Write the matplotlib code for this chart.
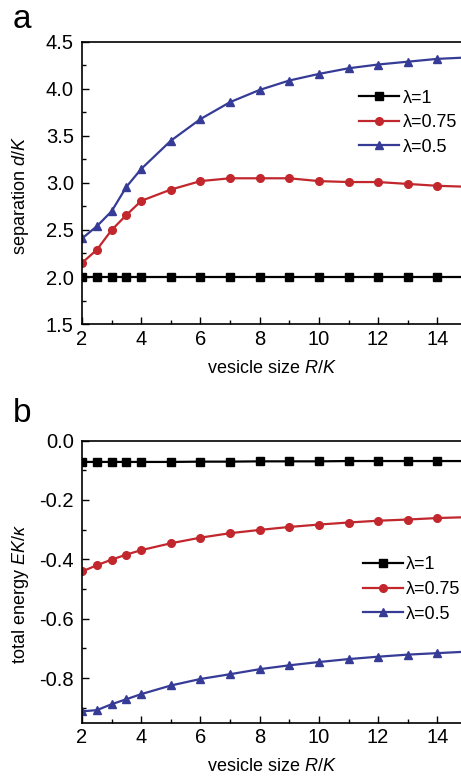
import matplotlib
matplotlib.use("Agg")
import matplotlib.pyplot as plt
from matplotlib.ticker import MultipleLocator, FormatStrFormatter

plt.rcParams['font.family'] = ['Liberation Sans', 'DejaVu Sans']
plt.rcParams['mathtext.fontset'] = 'custom'
plt.rcParams['mathtext.it'] = 'Liberation Sans:italic'
plt.rcParams['mathtext.rm'] = 'Liberation Sans'

# ── data ──────────────────────────────────────────────────────────────
R = [2, 2.5, 3, 3.5, 4, 5, 6, 7, 8, 9, 10, 11, 12, 13, 14, 15]
labels = ["λ=1", "λ=0.75", "λ=0.5"]

sep_l1 = [2.0] * 16
sep_l075 = [2.15, 2.29, 2.50, 2.66, 2.81, 2.93, 3.02, 3.05, 3.05, 3.05,
            3.02, 3.01, 3.01, 2.99, 2.97, 2.96]
sep_l05 = [2.41, 2.54, 2.70, 2.96, 3.15, 3.45, 3.68, 3.86, 3.99, 4.09,
           4.16, 4.22, 4.26, 4.29, 4.32, 4.335]

en_l1 = [-0.072, -0.072, -0.072, -0.072, -0.072, -0.072, -0.071, -0.071,
         -0.070, -0.070, -0.070, -0.069, -0.069, -0.069, -0.069, -0.069]
en_l075 = [-0.441, -0.420, -0.401, -0.384, -0.369, -0.346, -0.327, -0.312,
           -0.301, -0.291, -0.283, -0.276, -0.270, -0.266, -0.261, -0.258]
en_l05 = [-0.912, -0.908, -0.888, -0.871, -0.854, -0.825, -0.803, -0.787,
          -0.770, -0.757, -0.746, -0.736, -0.728, -0.721, -0.716, -0.711]

colors = ["#000000", "#c1272d", "#363c96"]
markers = ["s", "o", "^"]

fig = plt.figure(figsize=(4.61, 7.77), dpi=100)
ax_a = fig.add_axes([0.178, 0.583, 0.822, 0.363])
ax_b = fig.add_axes([0.178, 0.070, 0.822, 0.363])


def style(ax):
    ax.spines['right'].set_visible(False)
    for s in ['top', 'left', 'bottom']:
        ax.spines[s].set_linewidth(1.2)
    ax.xaxis.set_major_locator(MultipleLocator(2))
    ax.xaxis.set_minor_locator(MultipleLocator(1))
    ax.tick_params(which='both', direction='in', top=False, right=False,
                   width=1.0, labelsize=14.5)
    ax.tick_params(which='major', length=5)
    ax.tick_params(which='minor', length=3)
    ax.tick_params(axis='y', pad=6)
    ax.tick_params(axis='x', pad=4)
    ax.set_xlim(2, 14.8)
    ax.set_xlabel(r"vesicle size $\mathit{R/K}$", fontsize=13, labelpad=8)


for ax, series in [(ax_a, [sep_l1, sep_l075, sep_l05]),
                   (ax_b, [en_l1, en_l075, en_l05])]:
    for y, c, m, lab in zip(series, colors, markers, labels):
        ax.plot(R, y, color=c, marker=m, markersize=5.5, linewidth=1.6,
                label=lab)
    style(ax)

leg_kw = dict(loc='upper left', frameon=False, fontsize=13, handlelength=2.2,
              handletextpad=0.2, labelspacing=0.42, borderaxespad=0)

ax_a.set_ylim(1.5, 4.5)
ax_a.yaxis.set_major_locator(MultipleLocator(0.5))
ax_a.yaxis.set_minor_locator(MultipleLocator(0.25))
ax_a.yaxis.set_major_formatter(FormatStrFormatter('%.1f'))
ax_a.set_ylabel(r"separation $\mathit{d/K}$", fontsize=13)
ax_a.yaxis.set_label_coords(-0.135, 0.454)
ax_a.legend(bbox_to_anchor=(0.712, 0.857), **leg_kw)

ax_b.set_ylim(-0.95, 0.0)
ax_b.yaxis.set_major_locator(MultipleLocator(0.2))
ax_b.yaxis.set_minor_locator(MultipleLocator(0.1))
ax_b.yaxis.set_major_formatter(FormatStrFormatter('%.1f'))
ax_b.set_ylabel(r"total energy $\mathit{EK/\kappa}$", fontsize=13)
ax_b.yaxis.set_label_coords(-0.135, 0.456)
ax_b.legend(bbox_to_anchor=(0.722, 0.615), **leg_kw)

fig.text(0.028, 0.975, "a", fontsize=24, va='center', ha='left')
fig.text(0.028, 0.468, "b", fontsize=24, va='center', ha='left')

plt.savefig("out.png", dpi=100)
plt.close()
